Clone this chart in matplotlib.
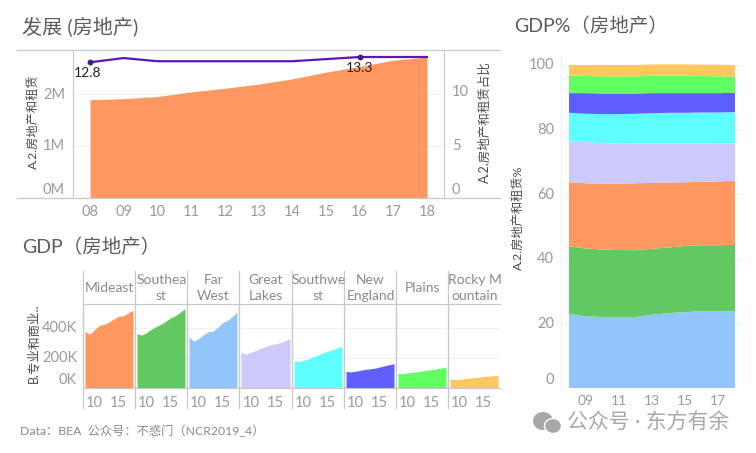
"""Real estate GDP dashboard: national trend, regional facets and regional share."""

import matplotlib

matplotlib.use("Agg")
import matplotlib.pyplot as plt
import numpy as np
from matplotlib.patches import Ellipse

plt.rcParams["font.family"] = ["Lato", "Noto Sans CJK SC", "DejaVu Sans"]

W, H = 756, 453

YEARS = np.arange(8, 19)

# top panel
TOTAL_M = [1.89, 1.91, 1.95, 2.04, 2.11, 2.19, 2.29, 2.42, 2.53, 2.65, 2.71]
SHARE_PCT = [12.8, 13.2, 12.9, 12.9, 12.9, 12.9, 12.9, 13.1, 13.3, 13.3, 13.3]

# facets
REGIONS = ["Mideast", "Southea\nst", "Far\nWest", "Great\nLakes", "Southwe\nst",
           "New\nEngland", "Plains", "Rocky M\nountain"]
MIDEAST = [378, 358, 389, 418, 424, 440, 460, 478, 482, 500, 518]
SOUTHEAST = [362, 352, 370, 392, 410, 425, 445, 468, 482, 505, 530]
FAR_WEST = [340, 313, 330, 355, 375, 378, 405, 435, 450, 475, 507]
GREAT_LAKES = [240, 225, 238, 250, 265, 275, 287, 295, 302, 315, 330]
SOUTHWEST = [180, 178, 184, 195, 208, 220, 235, 245, 255, 268, 278]
NEW_ENGLAND = [111, 107, 112, 118, 124, 128, 132, 140, 148, 155, 162]
PLAINS = [100, 95, 100, 104, 108, 112, 118, 122, 128, 132, 140]
ROCKY = [58, 56, 58, 62, 66, 70, 72, 76, 78, 82, 84]
REGION_VALUES = [MIDEAST, SOUTHEAST, FAR_WEST, GREAT_LAKES, SOUTHWEST, NEW_ENGLAND, PLAINS, ROCKY]
REGION_COLORS = ["#FF9860", "#62C962", "#92C5FA", "#CCCAFA", "#5FFFFF", "#5F5FFF", "#62FF62", "#FFC75F"]

# share of each region, stacked from the bottom up
SHARE_FAR_WEST = [22.9, 22.2, 22.0, 22.0, 22.0, 22.7, 23.2, 23.5, 23.8, 23.8, 23.8]
SHARE_SOUTHEAST = [21.0, 21.0, 20.9, 20.7, 20.7, 20.4, 20.3, 20.5, 20.4, 20.4, 20.5]
SHARE_MIDEAST = [19.8, 20.2, 20.4, 20.6, 20.7, 20.4, 20.1, 19.7, 19.6, 19.8, 19.8]
SHARE_GREAT_LAKES = [12.7, 12.7, 12.5, 12.4, 12.3, 12.2, 12.1, 12.0, 11.9, 11.7, 11.6]
SHARE_SOUTHWEST = [8.8, 8.8, 9.0, 9.1, 9.2, 9.4, 9.5, 9.5, 9.6, 9.6, 9.7]
SHARE_NEW_ENGLAND = [6.1, 6.4, 6.4, 6.4, 6.3, 6.2, 6.1, 6.1, 6.0, 6.0, 6.0]
SHARE_PLAINS = [5.4, 5.3, 5.3, 5.3, 5.3, 5.4, 5.4, 5.4, 5.3, 5.2, 5.0]
SHARE_ROCKY = [3.3, 3.4, 3.5, 3.5, 3.5, 3.5, 3.5, 3.5, 3.5, 3.6, 3.6]
STACK_COLORS = ["#92C5FA", "#62C962", "#FF9860", "#CCCAFA", "#5FFFFF", "#5F5FFF", "#62FF62", "#FFC75F"]

TITLE_COLOR = "#5c5c5c"
TICK_COLOR = "#9a9a9a"
LABEL_COLOR = "#4a4a4a"
LINE_COLOR = "#c8c8c8"
GRID_COLOR = "#f0f0f0"


def px_axes(fig, left, top, right, bottom):
    """Axes placed by pixel edges, measured from the top left of the figure."""
    return fig.add_axes([left / W, 1 - bottom / H, (right - left) / W, (bottom - top) / H])


def fig_text(fig, x, y, s, **kwargs):
    fig.text(x / W, 1 - y / H, s, **kwargs)


def clean_spines(ax):
    for spine in ax.spines.values():
        spine.set_visible(False)
    ax.tick_params(length=0, colors=TICK_COLOR)


def draw_trend(fig):
    ax = px_axes(fig, 73, 50, 444, 198)
    clean_spines(ax)
    ax.set_xlim(8 - 17 / 33.7, 18 + 17 / 33.7)
    ax.set_ylim(0, 2.846)
    ax.fill_between(YEARS, TOTAL_M, color="#FF9860", lw=0)
    ax.set_yticks([0, 1, 2])
    ax.set_yticklabels([])
    ax.yaxis.grid(True, color=GRID_COLOR, lw=0.8)
    ax.set_axisbelow(True)
    ax.set_xticks(YEARS)
    ax.set_xticklabels([f"{y:02d}" for y in YEARS], fontsize=10.5)
    ax.tick_params(axis="x", pad=5)
    ax.spines["left"].set_visible(True)
    ax.spines["right"].set_visible(True)
    ax.spines["left"].set_color(LINE_COLOR)
    ax.spines["right"].set_color(LINE_COLOR)

    share = ax.twinx()
    clean_spines(share)
    share.set_ylim(0, 13.96)
    share.plot(YEARS, SHARE_PCT, color="#5B17B0", lw=1.6)
    share.plot([YEARS[0], YEARS[8]], [SHARE_PCT[0], SHARE_PCT[8]], "o", color="#3F1A9A", ms=3.2)
    share.set_yticks([])
    share.annotate("12.8", (8, 12.8), xytext=(-2, -8), textcoords="offset points",
                   ha="center", va="center", fontsize=10, color="#222222")
    share.annotate("13.3", (16, 13.3), xytext=(0, -8), textcoords="offset points",
                   ha="center", va="center", fontsize=10, color="#222222")

    # frame lines running past the plot edges
    for y in (50, 198):
        fig.add_artist(plt.Line2D([17 / W, 500 / W], [1 - y / H] * 2, color=LINE_COLOR, lw=0.9))

    for y, s in ((190, "0M"), (146, "1M"), (95, "2M")):
        fig_text(fig, 65, y, s, ha="right", va="center", fontsize=10.5, color=TICK_COLOR)
    for y, s in ((190, "0"), (146, "5"), (92, "10")):
        fig_text(fig, 452, y, s, ha="left", va="center", fontsize=10.5, color=TICK_COLOR)
    fig_text(fig, 33, 122, "A.2.房地产和租赁", rotation=90, ha="center", va="center",
             fontsize=8.8, color=LABEL_COLOR)
    fig_text(fig, 485, 122, "A.2.房地产和租赁占比", rotation=90, ha="center", va="center",
             fontsize=9, color=LABEL_COLOR)


def draw_facets(fig):
    edges = [83, 135, 187, 239, 292, 344, 396, 448, 500]
    for i, (region, values, color) in enumerate(zip(REGIONS, REGION_VALUES, REGION_COLORS)):
        ax = px_axes(fig, edges[i], 304, edges[i + 1], 388)
        clean_spines(ax)
        ax.set_xlim(8 - 2 / 4.8, 18 + 2 / 4.8)
        ax.set_ylim(0, 560)
        ax.fill_between(YEARS, values, color=color, lw=0)
        ax.set_yticks([0, 200, 400])
        ax.set_yticklabels([])
        ax.yaxis.grid(True, color=GRID_COLOR, lw=0.8)
        ax.set_axisbelow(True)
        ax.set_xticks([10, 15])
        ax.set_xticklabels(["10", "15"], fontsize=10.5)
        ax.tick_params(axis="x", pad=6)
        ax.spines["left"].set_visible(True)
        ax.spines["left"].set_color(LINE_COLOR)
        ax.spines["top"].set_visible(True)
        ax.spines["top"].set_color(LINE_COLOR)
        ax.spines["bottom"].set_visible(True)
        ax.spines["bottom"].set_color(LINE_COLOR)
        fig_text(fig, (edges[i] + edges[i + 1]) / 2 + 0.5, 288, region, ha="center", va="center",
                 fontsize=10, color="#8a8a8a", linespacing=1.3)
    for x in edges[:-1]:
        fig.add_artist(plt.Line2D([x / W] * 2, [1 - 271 / H, 1 - 408 / H], color=LINE_COLOR, lw=0.9))
    for y, s in ((380, "0K"), (358, "200K"), (328, "400K")):
        fig_text(fig, 77, y, s, ha="right", va="center", fontsize=10.5, color=TICK_COLOR)
    fig_text(fig, 33, 343, "B.专业和商业..", rotation=90, ha="center", va="center",
             fontsize=9, color=LABEL_COLOR)


def draw_stack(fig):
    ax = px_axes(fig, 561, 55, 743, 388)
    clean_spines(ax)
    ax.set_xlim(8 - 8 / 16.6, 18 + 8 / 16.6)
    ax.set_ylim(0, 103.1)
    ax.stackplot(
        YEARS,
        SHARE_FAR_WEST, SHARE_SOUTHEAST, SHARE_MIDEAST, SHARE_GREAT_LAKES,
        SHARE_SOUTHWEST, SHARE_NEW_ENGLAND, SHARE_PLAINS, SHARE_ROCKY,
        colors=STACK_COLORS, lw=0,
    )
    ax.set_yticks([20, 40, 60, 80, 100])
    ax.set_yticklabels([])
    ax.yaxis.grid(True, color=GRID_COLOR, lw=0.8)
    ax.set_axisbelow(True)
    ax.set_xticks([9, 11, 13, 15, 17])
    ax.set_xticklabels(["09", "11", "13", "15", "17"], fontsize=10)
    ax.tick_params(axis="x", pad=5)
    ax.spines["left"].set_visible(True)
    ax.spines["left"].set_color(GRID_COLOR)
    for y, s in ((380, "0"), (324, "20"), (259, "40"), (195, "60"), (130, "80"), (65, "100")):
        fig_text(fig, 554, y, s, ha="right", va="center", fontsize=10.5, color=TICK_COLOR)
    fig_text(fig, 518, 218, "A.2.房地产和租赁%", rotation=90, ha="center", va="center",
             fontsize=8.8, color=LABEL_COLOR)


def draw_watermark(fig):
    overlay = fig.add_axes([0, 0, 1, 1], zorder=5)
    overlay.set_xlim(0, W)
    overlay.set_ylim(H, 0)
    overlay.axis("off")
    overlay.add_patch(Ellipse((543, 421), 20, 18, color="#a8a8a8", lw=0))
    overlay.add_patch(Ellipse((553, 426), 17, 15, facecolor="#a8a8a8", edgecolor="white", lw=1))
    fig_text(fig, 567, 422, "公众号 · 东方有余", ha="left", va="center", fontsize=15, color="#a8a8a8")


def main():
    fig = plt.figure(figsize=(W / 100, H / 100), dpi=100)

    draw_trend(fig)
    draw_facets(fig)
    draw_stack(fig)
    draw_watermark(fig)

    fig_text(fig, 22, 26, "发展 (房地产)", ha="left", va="center", fontsize=14.5, color=TITLE_COLOR)
    fig_text(fig, 22, 247, "GDP（房地产）", ha="left", va="center", fontsize=14, color=TITLE_COLOR)
    fig_text(fig, 514, 26, "GDP%（房地产）", ha="left", va="center", fontsize=14, color=TITLE_COLOR)
    fig_text(fig, 20, 431, "Data：BEA  公众号：不惑门（NCR2019_4）", ha="left", va="center",
             fontsize=8.8, color="#8a8a8a")

    fig.savefig("out.png", dpi=100)
    plt.close(fig)


if __name__ == "__main__":
    main()
